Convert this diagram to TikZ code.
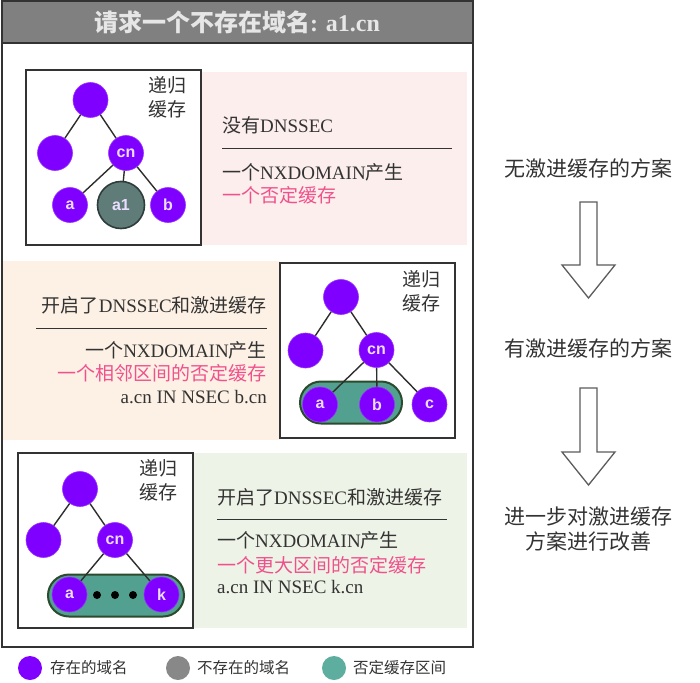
\documentclass[tikz,border=0pt]{standalone}
\usepackage{fontspec}
\setmainfont{Liberation Serif}
\setsansfont{Liberation Sans}
\newfontfamily\cjk{Noto Sans CJK SC}
\definecolor{vio}{HTML}{7F00FF}
\definecolor{vioedge}{HTML}{9633FF}
\definecolor{lbl}{HTML}{EBDDFF}
\definecolor{ghost}{HTML}{5F7C79}
\definecolor{ghostedge}{HTML}{2E3D3C}
\definecolor{tealfill}{HTML}{52A08F}
\definecolor{tealedge}{HTML}{2C4A2E}
\definecolor{legteal}{HTML}{5DAE9F}
\definecolor{leggray}{HTML}{888888}
\definecolor{pinkbg}{HTML}{FBEEEC}
\definecolor{peachbg}{HTML}{FDF1E5}
\definecolor{greenbg}{HTML}{EEF3E7}
\definecolor{txtc}{HTML}{333333}
\definecolor{pinktxt}{HTML}{F0508C}
\definecolor{titlebg}{HTML}{808080}
\definecolor{titletxt}{HTML}{E6E6E6}
\tikzset{
  dom/.style={circle, fill=vio, draw=vioedge, line width=0.6pt, minimum size=35pt, inner sep=0pt,
              text=lbl, font=\sffamily\bfseries\fontsize{16}{16}\selectfont},
  nodom/.style={circle, fill=ghost, draw=ghostedge, line width=1.6pt, minimum size=47pt, inner sep=0pt,
              text=lbl, font=\sffamily\bfseries\fontsize{16}{16}\selectfont},
  pill/.style={rectangle, rounded corners=21pt, fill=tealfill, draw=tealedge, line width=2pt,
              minimum height=42pt, inner sep=0pt},
  edge/.style={draw=txtc!90!black, line width=1.4pt},
  cachebox/.style={draw=txtc, line width=1.5pt, fill=white},
  cachelbl/.style={align=center, inner sep=0pt, text=txtc, font=\cjk\fontsize{19}{24}\selectfont},
  txt/.style={inner sep=0pt, text=txtc, font=\fontsize{19}{19}\selectfont},
  ptxt/.style={txt, text=pinktxt},
  rule/.style={draw=txtc, line width=1pt},
  side/.style={inner sep=0pt, text=txtc, align=center, font=\cjk\fontsize{21}{25}\selectfont},
  blockarrow/.style={draw=txtc!80, line width=1.3pt, fill=white, line join=miter},
  leg/.style={circle, minimum size=24pt, inner sep=0pt},
  legtxt/.style={inner sep=0pt, anchor=west, text=txtc, font=\cjk\fontsize{15.5}{16}\selectfont},
  dot/.style={circle, fill=black, minimum size=8pt, inner sep=0pt}
}
\begin{document}
\begin{tikzpicture}[x=1pt,y=-1pt]
\useasboundingbox (0,0) rectangle (700,682);
\fill[white] (0,0) rectangle (700,682);
% outer frame and title
\draw[draw=txtc, line width=2pt, fill=white] (2,1) rectangle (473,647);
\draw[draw=txtc, line width=2pt, fill=titlebg] (2,1) rectangle (473,43);
\node[inner sep=0pt, text=titletxt, font=\bfseries\fontsize{24}{24}\selectfont] (title) at (237,22)
  {{\cjk\bfseries 请求一个不存在域名}: a1.cn};

% ===== panel 1 =====
\fill[pinkbg] (201,72) rectangle (467,245);
\draw[cachebox] (26,70) rectangle (201,245);
\node[cachelbl] (c1) at (167,97) {递归\\缓存};
\node[dom] (r1) at (90.5,100) {};
\node[dom] (l1) at (55,153) {};
\node[dom] (cn1) at (126,153) {cn};
\node[dom] (a1n) at (70,205) {a};
\node[nodom] (x1) at (121,205) {a1};
\node[dom] (b1) at (168,205) {b};
\draw[edge] (r1) -- (l1);
\draw[edge] (r1) -- (cn1);
\draw[edge] (cn1) -- (a1n);
\draw[edge] (cn1) -- (x1);
\draw[edge] (cn1) -- (b1);
\node[txt, anchor=west] (p1a) at (222,125) {{\cjk 没有}DNSSEC};
\draw[rule] (222,148) -- (452,148);
\node[txt, anchor=west] (p1b) at (222,172) {{\cjk 一个}NXDOMAIN{\cjk 产生}};
\node[ptxt, anchor=west] (p1c) at (222,195) {\cjk 一个否定缓存};

% ===== panel 2 =====
\fill[peachbg] (3,261) rectangle (280,440);
\draw[cachebox] (280,263) rectangle (455,438);
\node[cachelbl] (c2) at (421,291) {递归\\缓存};
\node[pill, minimum width=102pt] (pill2) at (351,402.5) {};
\node[dom] (r2) at (341,297) {};
\node[dom] (l2) at (305.5,350.5) {};
\node[dom] (cn2) at (376.5,350) {cn};
\node[dom] (a2) at (320,404.5) {a};
\node[dom] (b2) at (377,404.5) {b};
\node[dom] (cc2) at (429.5,404.5) {c};
\draw[edge] (r2) -- (l2);
\draw[edge] (r2) -- (cn2);
\draw[edge] (cn2) -- (a2);
\draw[edge] (cn2) -- (b2);
\draw[edge] (cn2) -- (cc2);
\node[txt, anchor=east] (p2a) at (267,305) {{\cjk 开启了}DNSSEC{\cjk 和激进缓存}};
\draw[rule] (36,328) -- (267,328);
\node[txt, anchor=east] (p2b) at (267,350) {{\cjk 一个}NXDOMAIN{\cjk 产生}};
\node[ptxt, anchor=east] (p2c) at (267,373) {\cjk 一个相邻区间的否定缓存};
\node[txt, anchor=east] (p2d) at (267,397) {a.cn IN NSEC b.cn};

% ===== panel 3 =====
\fill[greenbg] (193,453) rectangle (467,628);
\draw[cachebox] (18,453) rectangle (193,628);
\node[cachelbl] (c3) at (158,480) {递归\\缓存};
\node[pill, minimum width=136pt] (pill3) at (116,595.5) {};
\node[dom] (r3) at (80,489) {};
\node[dom] (l3) at (43.5,540) {};
\node[dom] (cn3) at (115,540) {cn};
\node[dom] (a3) at (69.5,594.5) {a};
\node[dom] (k3) at (161.5,594.5) {k};
\node[dot] (d1) at (97,595) {};
\node[dot] (d2) at (115,595) {};
\node[dot] (d3) at (133,595) {};
\draw[edge] (r3) -- (l3);
\draw[edge] (r3) -- (cn3);
\draw[edge] (cn3) -- (a3);
\draw[edge] (cn3) -- (k3);
\node[txt, anchor=west] (p3a) at (217,497) {{\cjk 开启了}DNSSEC{\cjk 和激进缓存}};
\draw[rule] (217,519) -- (447,519);
\node[txt, anchor=west] (p3b) at (217,540) {{\cjk 一个}NXDOMAIN{\cjk 产生}};
\node[ptxt, anchor=west] (p3c) at (217,565) {\cjk 一个更大区间的否定缓存};
\node[txt, anchor=west] (p3d) at (217,587) {a.cn IN NSEC k.cn};

% ===== legend =====
\node[leg, fill=vio] (lg1) at (30,668) {};
\node[legtxt] (lt1) at (50,668) {存在的域名};
\node[leg, fill=leggray] (lg2) at (178,668) {};
\node[legtxt] (lt2) at (197,668) {不存在的域名};
\node[leg, fill=legteal] (lg3) at (334,668) {};
\node[legtxt] (lt3) at (353,668) {否定缓存区间};

% ===== right side =====
\node[side] (s1) at (588,168) {无激进缓存的方案};
\node[side] (s2) at (588,348) {有激进缓存的方案};
\node[side] (s3) at (588,529) {进一步对激进缓存\\方案进行改善};
\draw[blockarrow] (580,202) -- (597,202) -- (597,265) -- (615,265) -- (588.5,298) -- (562,265) -- (580,265) -- cycle;
\draw[blockarrow] (580,388) -- (597,388) -- (597,452) -- (615,452) -- (588.5,485) -- (562,452) -- (580,452) -- cycle;
\end{tikzpicture}
\end{document}
